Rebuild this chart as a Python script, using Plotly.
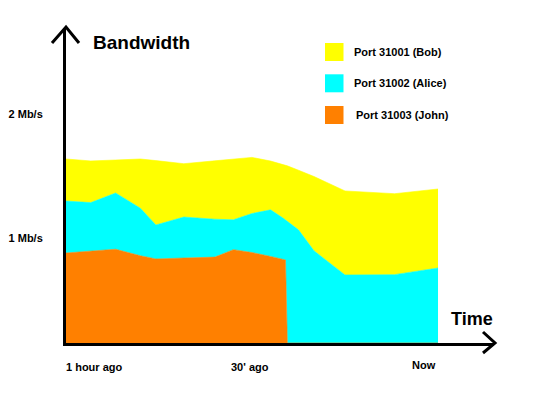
import plotly.graph_objects as go

# ---------------- data ----------------
minutes = [-60, -56, -52, -48, -45.5, -41, -36, -33, -30, -27, -25, -24.6, -24.3, -22.5, -20, -15, -7, 0]
john = [0.786, 0.802, 0.819, 0.762, 0.734, 0.742, 0.750, 0.815, 0.790, 0.756, 0.734, 0.725,
        0, 0, 0, 0, 0, 0]
alice = [0.454, 0.424, 0.491, 0.415, 0.297, 0.358, 0.331, 0.261, 0.341, 0.407, 0.357, 0.349,
         1.063, 0.988, 0.805, 0.594, 0.597, 0.655]
bob = [0.367, 0.364, 0.288, 0.430, 0.562, 0.466, 0.510, 0.533, 0.490, 0.426, 0.471, 0.479,
       0.484, 0.521, 0.649, 0.734, 0.707, 0.690]

series_names = ["Port 31001 (Bob)", "Port 31002 (Alice)", "Port 31003 (John)"]
series_colors = ["#FFFF00", "#00FFFF", "#FF8000"]

y_tick_values = [0.92, 2.0]
y_tick_labels = ["1 Mb/s", "2 Mb/s"]
x_tick_values = [-60, -30, 0]
x_tick_labels = ["1 hour ago", "30' ago", "Now"]

# ---------------- layout geometry (page pixels) ----------------
OFF = 8                      # default page body margin
W, H = 540 - OFF, 393 - OFF  # figure size so it fits the window
PL, PR, PT, PB = 66, 494, 28, 343
FONT = "Liberation Sans, Arial, sans-serif"


def px_to_paper_x(px):
    return (px - PL) / (PR - PL)


def px_to_paper_y(py):
    return (PB - py) / (PB - PT)


fig = go.Figure()
stack_order = [(john, 2), (alice, 1), (bob, 0)]
for values, idx in stack_order:
    fig.add_trace(go.Scatter(
        x=minutes, y=values, name=series_names[idx], mode="lines",
        stackgroup="bw", line=dict(width=0.6, color=series_colors[idx]),
        fillcolor=series_colors[idx], showlegend=False,
    ))

annotations = []
# x tick labels
x_anchor = ["left", "center", "right"]
x_shift = [-2, -2, 0]
y_shift = [-24, -24, -22]
for i, (v, t) in enumerate(zip(x_tick_values, x_tick_labels)):
    annotations.append(dict(
        x=v, xref="x", y=0, yref="paper", text=t, showarrow=False,
        xanchor=x_anchor[i], yanchor="middle", xshift=x_shift[i], yshift=y_shift[i],
        font=dict(family=FONT, size=11, color="#000", weight="bold"),
    ))

# Time label
annotations.append(dict(
    x=px_to_paper_x(449), xref="paper", y=px_to_paper_y(319), yref="paper",
    text="Time", showarrow=False, xanchor="left", yanchor="middle",
    font=dict(family=FONT, size=18, color="#000", weight="bold"),
))

# legend (drawn)
shapes = []
legend_rows = [52, 83.3, 115]
legend_text_x = [351.5, 351.5, 354]
for i, name in enumerate(series_names):
    cy = legend_rows[i]
    shapes.append(dict(
        type="rect", xref="paper", yref="paper",
        x0=px_to_paper_x(325), x1=px_to_paper_x(343.5),
        y0=px_to_paper_y(cy - 9), y1=px_to_paper_y(cy + 9),
        fillcolor=series_colors[i], line=dict(width=0),
    ))
    annotations.append(dict(
        x=px_to_paper_x(legend_text_x[i]), xref="paper", y=px_to_paper_y(cy), yref="paper",
        text=name, showarrow=False, xanchor="left", yanchor="middle",
        font=dict(family=FONT, size=11, color="#000", weight="bold"),
    ))

# arrow heads
shapes.append(dict(
    type="path", xref="paper", yref="paper", xsizemode="pixel", ysizemode="pixel",
    xanchor=0, yanchor=1, path="M -14,-15 L 0,1 L 13,-15",
    line=dict(color="#000", width=3),
))
shapes.append(dict(
    type="path", xref="paper", yref="paper", xsizemode="pixel", ysizemode="pixel",
    xanchor=1, yanchor=0, path="M -11,11 L 1,0 L -11,-10",
    line=dict(color="#000", width=3),
))

fig.update_layout(
    width=W, height=H,
    margin=dict(l=PL - OFF, r=540 - PR, t=PT - OFF, b=393 - PB, pad=0,
                autoexpand=False),
    paper_bgcolor="white", plot_bgcolor="white",
    title=dict(
        text="Bandwidth", x=(93 - OFF) / W, xanchor="left",
        y=1 - (42 - OFF) / H, yanchor="middle",
        font=dict(family=FONT, size=19, color="#000", weight="bold"),
    ),
    xaxis=dict(
        range=[-60, 9.03], showgrid=False, zeroline=False, showticklabels=False,
        ticks="", showline=True, linecolor="#000", linewidth=3, fixedrange=True,
        automargin=False,
    ),
    yaxis=dict(
        range=[0, 2.751], showgrid=False, zeroline=False, showline=True,
        linecolor="#000", linewidth=3, tickvals=y_tick_values, ticktext=y_tick_labels,
        ticks="", ticklabelstandoff=18, fixedrange=True, automargin=False,
        tickfont=dict(family=FONT, size=11, color="#000", weight="bold"),
    ),
    annotations=annotations,
    shapes=shapes,
    showlegend=False,
)

fig.write_html("out.html", config={"displayModeBar": False})
